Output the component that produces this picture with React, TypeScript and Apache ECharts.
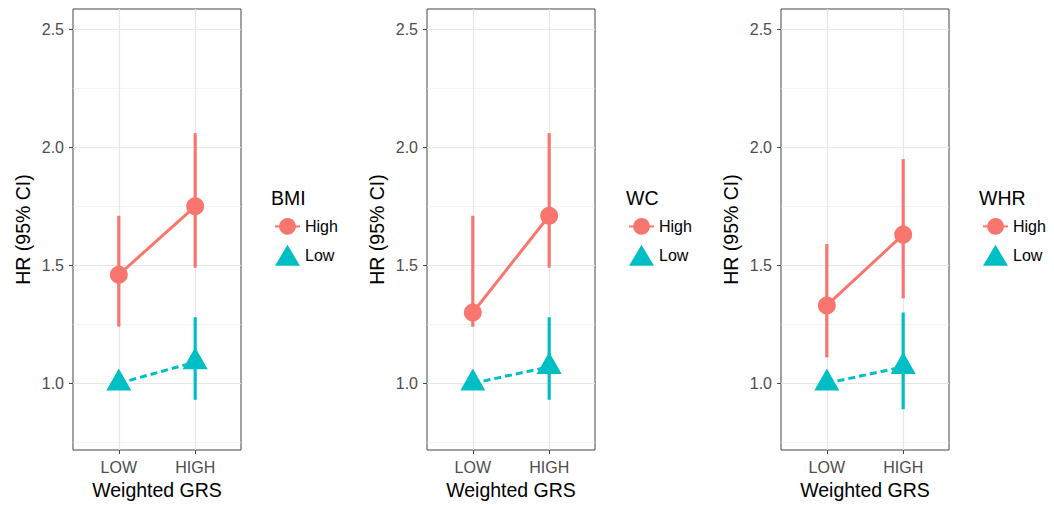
import React, { useEffect, useRef } from 'react';
import * as echarts from 'echarts';

// ---- data ----
const groups = ['LOW', 'HIGH'];
const panelTitles = ['BMI', 'WC', 'WHR'];
const legendLabels = ['High', 'Low'];
const yTicks = [1.0, 1.5, 2.0, 2.5];
const yMinorTicks = [0.75, 1.25, 1.75, 2.25];

const bmiHigh = [1.46, 1.75];
const bmiHighLo = [1.24, 1.49];
const bmiHighHi = [1.71, 2.06];
const bmiLow = [1.0, 1.09];
const bmiLowLo = [1.0, 0.93];
const bmiLowHi = [1.0, 1.28];

const wcHigh = [1.3, 1.71];
const wcHighLo = [1.24, 1.49];
const wcHighHi = [1.71, 2.06];
const wcLow = [1.0, 1.07];
const wcLowLo = [1.0, 0.93];
const wcLowHi = [1.0, 1.28];

const whrHigh = [1.33, 1.63];
const whrHighLo = [1.11, 1.36];
const whrHighHi = [1.59, 1.95];
const whrLow = [1.0, 1.07];
const whrLowLo = [1.0, 0.89];
const whrLowHi = [1.0, 1.3];

const panelData = [
  { high: bmiHigh, highLo: bmiHighLo, highHi: bmiHighHi, low: bmiLow, lowLo: bmiLowLo, lowHi: bmiLowHi },
  { high: wcHigh, highLo: wcHighLo, highHi: wcHighHi, low: wcLow, lowLo: wcLowLo, lowHi: wcLowHi },
  { high: whrHigh, highLo: whrHighLo, highHi: whrHighHi, low: whrLow, lowLo: whrLowLo, lowHi: whrLowHi },
];

// ---- layout / style ----
const FONT = '"Liberation Sans", Arial, sans-serif';
const RED = '#F8766D';
const TEAL = '#00BFC4';
const gridLefts = [73, 427, 781];
const legendLefts = [274, 628, 982];
const titleLefts = [271, 626, 979];
const Y_MIN = 0.7174;
const Y_MAX = 2.586;

function buildOption() {
  const grids: any[] = [];
  const xAxes: any[] = [];
  const yAxes: any[] = [];
  const series: any[] = [];
  const legends: any[] = [];
  const graphics: any[] = [];

  panelData.forEach((pd, p) => {
    grids.push({
      left: gridLefts[p],
      top: 9,
      width: 168,
      height: 441,
      show: true,
      borderColor: '#444',
      borderWidth: 1,
      backgroundColor: '#fff',
      containLabel: false,
    });
    const xVals = groups.map((_, i) => i + 1);
    xAxes.push({
      gridIndex: p,
      type: 'value',
      min: 0.4,
      max: 2.6,
      axisLine: { show: false },
      splitLine: { show: false },
      axisTick: { show: true, length: 4, customValues: xVals, lineStyle: { color: '#444', width: 1 } },
      axisLabel: {
        customValues: xVals,
        formatter: (v: number) => groups[Math.round(v) - 1] ?? '',
        color: '#4d4d4d',
        fontSize: 16,
        fontFamily: FONT,
        margin: 9,
      },
      name: 'Weighted GRS',
      nameLocation: 'middle',
      nameGap: 30,
      nameTextStyle: { fontSize: 19.5, color: '#000', fontFamily: FONT },
    });
    yAxes.push({
      gridIndex: p,
      type: 'value',
      min: Y_MIN,
      max: Y_MAX,
      axisLine: { show: false },
      splitLine: { show: false },
      axisTick: { show: true, length: 4, customValues: yTicks, lineStyle: { color: '#444', width: 1 } },
      axisLabel: {
        customValues: yTicks,
        formatter: (v: number) => v.toFixed(1),
        color: '#4d4d4d',
        fontSize: 16,
        fontFamily: FONT,
        margin: 9,
      },
      name: 'HR (95% CI)',
      nameLocation: 'middle',
      nameGap: 40,
      nameTextStyle: { fontSize: 19.5, color: '#000', fontFamily: FONT },
    });

    // grid lines
    series.push({
      type: 'line',
      name: '_grid' + p,
      xAxisIndex: p,
      yAxisIndex: p,
      data: [],
      z: 1,
      silent: true,
      markLine: {
        z: 1,
        silent: true,
        symbol: ['none', 'none'],
        label: { show: false },
        emphasis: { disabled: true },
        animation: false,
        data: [
          ...yMinorTicks.map((v) => ({ yAxis: v, lineStyle: { color: '#eeeeee', width: 0.7, type: 'solid' } })),
          ...yTicks.map((v) => ({ yAxis: v, lineStyle: { color: '#e6e6e6', width: 1.2, type: 'solid' } })),
          ...xVals.map((v) => ({ xAxis: v, lineStyle: { color: '#e6e6e6', width: 1.2, type: 'solid' } })),
        ],
      },
    });

    const ciSeries = (name: string, lo: number[], hi: number[], color: string) => ({
      type: 'custom',
      name,
      xAxisIndex: p,
      yAxisIndex: p,
      z: 3,
      silent: true,
      data: groups.map((_, i) => [i + 1, lo[i], hi[i]]),
      encode: { x: 0, y: [1, 2] },
      renderItem: (params: any, api: any) => {
        const a = api.coord([api.value(0), api.value(1)]);
        const b = api.coord([api.value(0), api.value(2)]);
        return {
          type: 'line',
          shape: { x1: a[0], y1: a[1], x2: b[0], y2: b[1] },
          style: { stroke: color, lineWidth: 3.2 },
        };
      },
    });

    series.push(ciSeries('High CI ' + p, pd.highLo, pd.highHi, RED));
    series.push(ciSeries('Low CI ' + p, pd.lowLo, pd.lowHi, TEAL));

    series.push({
      type: 'line',
      name: legendLabels[0],
      xAxisIndex: p,
      yAxisIndex: p,
      z: 4,
      data: groups.map((_, i) => [i + 1, pd.high[i]]),
      symbol: 'circle',
      symbolSize: 18,
      itemStyle: { color: RED },
      lineStyle: { color: RED, width: 3 },
      emphasis: { disabled: true },
    });
    series.push({
      type: 'line',
      name: legendLabels[1],
      xAxisIndex: p,
      yAxisIndex: p,
      z: 4,
      data: groups.map((_, i) => [i + 1, pd.low[i]]),
      symbol: 'triangle',
      symbolSize: [25, 22],
      symbolOffset: [0, -3.7],
      itemStyle: { color: TEAL },
      lineStyle: { color: TEAL, width: 3, type: [7, 4] },
      emphasis: { disabled: true },
    });

    legends.push({
      orient: 'vertical',
      left: legendLefts[p],
      top: 218,
      padding: 0,
      itemWidth: 25,
      itemHeight: 21,
      itemGap: 10,
      symbolKeepAspect: false,
      selectedMode: false,
      textStyle: { fontSize: 16, color: '#000', fontFamily: FONT },
      data: [
        { name: legendLabels[0] },
        { name: legendLabels[1], icon: 'triangle', itemStyle: { color: TEAL } },
      ],
    });

    graphics.push({
      type: 'text',
      x: titleLefts[p],
      y: 198,
      style: {
        text: panelTitles[p],
        font: `19.5px ${FONT}`,
        fill: '#000',
        align: 'left',
        verticalAlign: 'middle',
      },
    });
  });

  return {
    animation: false,
    backgroundColor: '#fff',
    grid: grids,
    xAxis: xAxes,
    yAxis: yAxes,
    legend: legends,
    graphic: graphics,
    series,
  };
}

export default function App() {
  const ref = useRef<HTMLDivElement>(null);
  useEffect(() => {
    if (!ref.current) return;
    const chart = echarts.init(ref.current, undefined, { renderer: 'svg' });
    chart.setOption(buildOption() as any);
    return () => chart.dispose();
  }, []);
  return (
    <div
      ref={ref}
      style={{ position: 'fixed', left: 0, top: 0, width: 1054, height: 505, background: '#fff' }}
    />
  );
}
